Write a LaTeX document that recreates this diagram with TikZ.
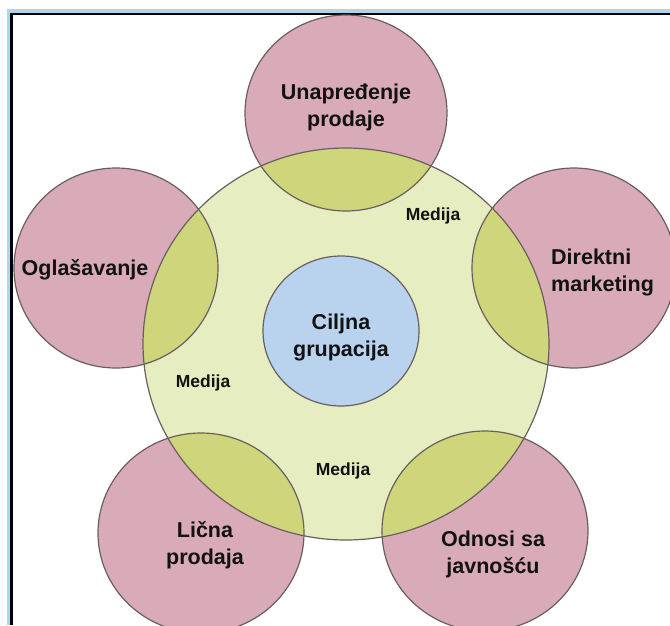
\documentclass[tikz,border=0pt]{standalone}
\usepackage{fontspec}
\setmainfont{Liberation Sans}
\definecolor{pinkc}{RGB}{217,170,183}
\definecolor{greenc}{RGB}{229,237,193}
\definecolor{olivec}{RGB}{207,213,122}
\definecolor{bluec}{RGB}{185,211,238}
\definecolor{edgec}{RGB}{105,95,95}
\definecolor{framebl}{RGB}{170,214,240}
\definecolor{txt}{RGB}{18,18,18}
\tikzset{
  edge/.style={draw=edgec, line width=1.2pt},
  bigtxt/.style={font=\fontsize{21.5}{27}\selectfont\bfseries, text=txt, align=center, inner sep=0pt},
  medtxt/.style={font=\fontsize{17.5}{20}\selectfont\bfseries, text=txt, align=center, inner sep=0pt}
}
\begin{document}
\begin{tikzpicture}[x=1pt,y=-1pt]
\useasboundingbox (0,0) rectangle (670,625);
\fill[white] (0,0) rectangle (670,625);
% frame
\fill[framebl] (6.5,9) rectangle (670,12.5);
\fill[framebl] (6.5,9) rectangle (10,625);
\draw[black, line width=2.5pt] (11.5,625) -- (11.5,13.8) -- (670,13.8);
% circles
\def\CT{(346,113) ellipse [x radius=101, y radius=98]}
\def\CL{(116,268) ellipse [x radius=102, y radius=100]}
\def\CR{(574,268) ellipse [x radius=102, y radius=100]}
\def\CBL{(201,533) ellipse [x radius=103, y radius=100]}
\def\CBR{(485,531) ellipse [x radius=103, y radius=100]}
\def\CG{(346,344) ellipse [x radius=203, y radius=196]}
\foreach \c in {\CT,\CL,\CR,\CBL,\CBR}{
  \fill[pinkc] \c;
}
\fill[greenc] \CG;
\foreach \c in {\CT,\CL,\CR,\CBL,\CBR}{
  \begin{scope}
    \clip \CG;
    \fill[olivec] \c;
  \end{scope}
}
\foreach \c in {\CT,\CL,\CR,\CBL,\CBR}{
  \draw[edgec, line width=1.2pt] \c;
}
\draw[edge] \CG;
\fill[bluec] (341,331) ellipse [x radius=78, y radius=75];
\draw[edge] (341,331) ellipse [x radius=78, y radius=75];
% texts
\node[bigtxt] (unap) at (346,107) {Unapređenje\\prodaje};
\node[bigtxt] (ogl) at (85,270) {Oglašavanje};
\node[bigtxt, align=left, anchor=west] (dir) at (551,272) {Direktni\\marketing};
\node[bigtxt] (cilj) at (341,337) {Ciljna\\grupacija};
\node[bigtxt] (licna) at (205,545) {Lična\\prodaja};
\node[bigtxt] (odn) at (493,554) {Odnosi sa\\javnošću};
\node[medtxt] (med1) at (433,216) {Medija};
\node[medtxt] (med2) at (203,383) {Medija};
\node[medtxt] (med3) at (343,471) {Medija};
\end{tikzpicture}
\end{document}
